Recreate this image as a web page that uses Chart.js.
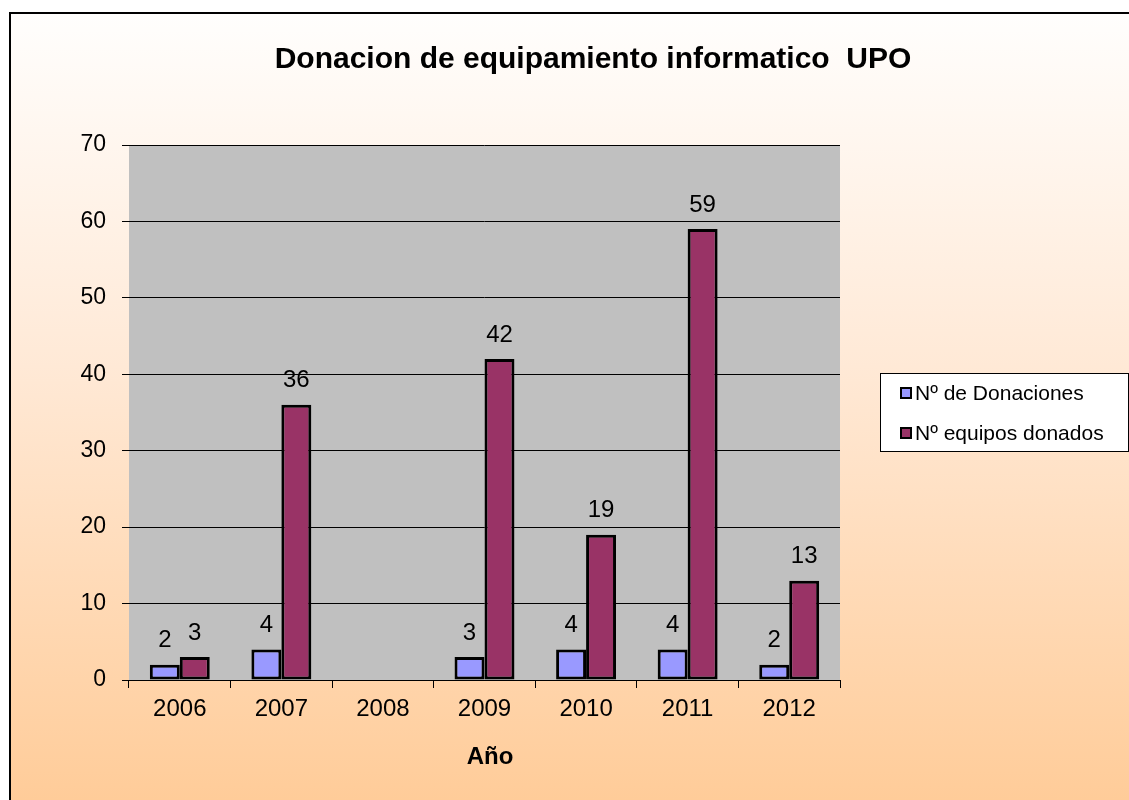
<!DOCTYPE html>
<html>
<head>
<meta charset="utf-8">
<script src="https://cdn.jsdelivr.net/npm/chart.js@4"></script>
<style>
  html, body { margin: 0; padding: 0; background: #fff; }
  #wrap { width: 1129px; height: 800px; }
</style>
</head>
<body>
<div id="wrap"><canvas id="myChart" width="1129" height="800"></canvas></div>
<script>
// datos
const years = ['2006', '2007', '2008', '2009', '2010', '2011', '2012'];
const donaciones = [2, 4, null, 3, 4, 4, 2];
const equipos = [3, 36, null, 42, 19, 59, 13];
const yTicks = [0, 10, 20, 30, 40, 50, 60, 70];

const chartTitle = 'Donacion de equipamiento informatico  UPO';
const xTitle = 'Año';
const FONT = "'Liberation Sans', Arial, sans-serif";

// fondo degradado, marco y zona gris del grafico
const backgroundPlugin = {
    id: 'fondo',
    beforeDraw(chart) {
        const ctx = chart.ctx;
        const area = chart.chartArea;
        ctx.save();
        ctx.fillStyle = '#ffffff';
        ctx.fillRect(0, 0, chart.width, chart.height);
        const grad = ctx.createLinearGradient(0, 12, 0, chart.height);
        grad.addColorStop(0, '#fffefd');
        grad.addColorStop(0.45, '#ffe9d6');
        grad.addColorStop(1, '#ffcc99');
        ctx.fillStyle = grad;
        ctx.fillRect(10, 12, chart.width - 10, chart.height - 12);
        // marco negro
        ctx.strokeStyle = '#000';
        ctx.lineWidth = 2;
        ctx.beginPath();
        ctx.moveTo(10, chart.height);
        ctx.lineTo(10, 13);
        ctx.lineTo(chart.width, 13);
        ctx.stroke();
        // area gris
        ctx.fillStyle = '#c0c0c0';
        ctx.fillRect(area.left, area.top, area.right - area.left, area.bottom - area.top);
        ctx.restore();
    }
};

// titulo, titulo del eje, etiquetas de valores y leyenda
const textPlugin = {
    id: 'textos',
    afterDatasetsDraw(chart) {
        const ctx = chart.ctx;
        ctx.save();
        ctx.fillStyle = '#000';
        ctx.textAlign = 'center';
        ctx.textBaseline = 'middle';

        ctx.font = 'bold 30px ' + FONT;
        ctx.fillText(chartTitle, 593, 60);

        ctx.font = 'bold 24px ' + FONT;
        ctx.fillText(xTitle, 490, 757);

        // valores encima de las barras
        ctx.font = '24px ' + FONT;
        chart.data.datasets.forEach((ds, i) => {
            const meta = chart.getDatasetMeta(i);
            meta.data.forEach((bar, j) => {
                const v = ds.data[j];
                if (v === null || v === undefined) return;
                ctx.fillText(String(v), bar.x, bar.y - 24);
            });
        });

        // leyenda
        const lx = 880, ly = 373, lw = 249, lh = 79;
        ctx.fillStyle = '#ffffff';
        ctx.fillRect(lx, ly, lw, lh);
        ctx.strokeStyle = '#000';
        ctx.lineWidth = 1;
        ctx.strokeRect(lx + 0.5, ly + 0.5, lw - 1, lh - 1);
        ctx.font = '21px ' + FONT;
        ctx.textAlign = 'left';
        chart.data.datasets.forEach((ds, i) => {
            const cy = 393 + i * 40;
            ctx.fillStyle = ds.backgroundColor;
            ctx.fillRect(901, cy - 5, 10, 10);
            ctx.lineWidth = 2;
            ctx.strokeStyle = '#000';
            ctx.strokeRect(901, cy - 5, 10, 10);
            ctx.fillStyle = '#000';
            ctx.fillText(ds.label, 915, cy + 1);
        });
        ctx.restore();
    }
};

const ctx = document.getElementById('myChart').getContext('2d');
const myChart = new Chart(ctx, {
    type: 'bar',
    data: {
        labels: years,
        datasets: [
            {
                label: 'Nº de Donaciones',
                data: donaciones,
                backgroundColor: '#9999ff',
                borderColor: '#000',
                borderWidth: 3,
                borderSkipped: false,
                categoryPercentage: 0.59,
                barPercentage: 1.0
            },
            {
                label: 'Nº equipos donados',
                data: equipos,
                backgroundColor: '#993366',
                borderColor: '#000',
                borderWidth: 3,
                borderSkipped: false,
                categoryPercentage: 0.59,
                barPercentage: 1.0
            }
        ]
    },
    options: {
        responsive: false,
        devicePixelRatio: 1,
        animation: false,
        layout: { padding: { top: 145, right: 289, left: 0, bottom: 0 } },
        plugins: {
            legend: { display: false },
            title: { display: false },
            tooltip: { enabled: false }
        },
        scales: {
            x: {
                grid: {
                    offset: true,
                    drawOnChartArea: false,
                    drawTicks: true,
                    tickLength: 8,
                    color: '#000'
                },
                border: { display: true, color: '#000', width: 1 },
                ticks: {
                    color: '#000',
                    font: { family: FONT, size: 24 },
                    padding: 7,
                    maxRotation: 0
                },
                afterFit(scale) { scale.height = 120; }
            },
            y: {
                min: 0,
                max: 70,
                afterBuildTicks(scale) { scale.ticks = yTicks.map(v => ({ value: v })); },
                grid: {
                    color: '#000',
                    tickLength: 7,
                    drawTicks: true
                },
                border: { display: false },
                ticks: {
                    color: '#000',
                    font: { family: FONT, size: 23 },
                    padding: 16
                },
                afterFit(scale) { scale.width = 129; }
            }
        }
    },
    plugins: [backgroundPlugin, textPlugin]
});
</script>
</body>
</html>
